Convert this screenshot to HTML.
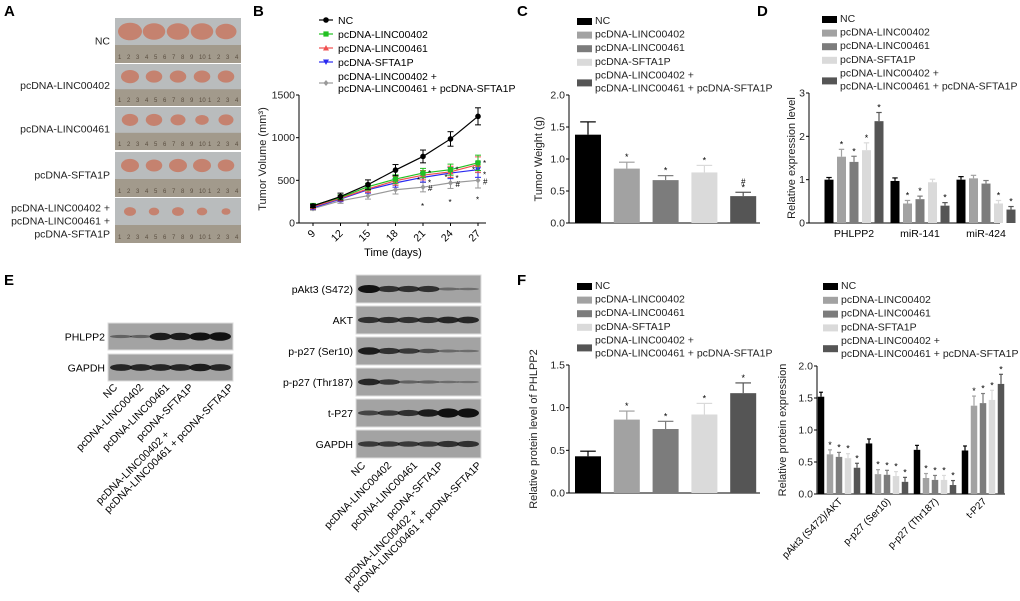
<!DOCTYPE html>
<html><head><meta charset="utf-8"><style>
html,body{margin:0;padding:0;background:#fff}
svg{display:block;font-family:"Liberation Sans",Arial,sans-serif}
</style></head><body>
<svg id="fig" width="1020" height="601" viewBox="0 0 1020 601">
<g font-weight="bold" font-size="15">
<text x="4" y="16">A</text>
<text x="253" y="16">B</text>
<text x="517" y="16">C</text>
<text x="757" y="16">D</text>
<text x="4" y="285">E</text>
<text x="517" y="285">F</text>
</g>
<g id="pA"></g>
<g id="pB"></g>
<g id="pC"></g>
<g id="pD"></g>
<g id="pE"></g>
<g id="pF1"></g>
<g id="pF2"></g>
</svg>
<script>
// ---------- data ----------
const groups = ["NC","pcDNA-LINC00402","pcDNA-LINC00461","pcDNA-SFTA1P","pcDNA-LINC00402 +|pcDNA-LINC00461 + pcDNA-SFTA1P"];
const barColors = ["#000000","#a2a2a2","#7c7c7c","#dadada","#555555"];
// B
const daysB = [9,12,15,18,21,24,27];
const nc_B = [200,310,450,620,780,985,1250];
const nc_Berr = [20,40,55,65,75,85,100];
const l402_B = [205,300,425,515,585,625,705];
const l461_B = [190,290,400,495,560,600,685];
const sfta_B = [180,280,390,470,535,585,625];
const combo_B = [170,260,320,390,420,470,500];
const other_Berr = [20,30,40,50,55,65,90];
const ticksB = [0,500,1000,1500];
// C
const valC = [1.38,0.85,0.67,0.79,0.42];
const errC = [0.2,0.1,0.07,0.11,0.06];
const ticksC = [0.0,0.5,1.0,1.5,2.0];
// D
const catsD = ["PHLPP2","miR-141","miR-424"];
const valD_NC = [1.0,0.97,1.0];
const valD_402 = [1.53,0.45,1.03];
const valD_461 = [1.41,0.55,0.91];
const valD_SF = [1.68,0.94,0.45];
const valD_CB = [2.35,0.4,0.31];
const ticksD = [0,1,2,3];
// F1
const valF1 = [0.43,0.86,0.75,0.92,1.17];
const errF1 = [0.06,0.1,0.09,0.13,0.12];
const ticksF1 = [0.0,0.5,1.0,1.5];
// F2
const catsF2 = ["pAkt3 (S472)/AKT","p-p27 (Ser10)","p-p27 (Thr187)","t-P27"];
const valF2_NC = [1.52,0.79,0.69,0.68];
const valF2_402 = [0.62,0.31,0.25,1.38];
const valF2_461 = [0.58,0.3,0.22,1.42];
const valF2_SF = [0.56,0.28,0.22,1.47];
const valF2_CB = [0.41,0.19,0.14,1.72];
const ticksF2 = [0.0,0.5,1.0,1.5,2.0];

const NS="http://www.w3.org/2000/svg";
function mk(parent,tag,attrs,text){const e=document.createElementNS(NS,tag);for(const k in attrs)e.setAttribute(k,attrs[k]);if(text!==undefined)e.textContent=text;parent.appendChild(e);return e;}
function lin(d0,d1,r0,r1){return v=>r0+(v-d0)*(r1-r0)/(d1-d0);}

function legendBars(g,x,y0,step){
  groups.forEach((name,i)=>{
    const parts=name.split("|");const y=y0+i*step;
    const yy=parts.length>1?y+7:y;
    const sw=mk(g,"rect",{x:x,y:yy-6,width:15,height:7,fill:barColors[i]});
    
    
    parts.forEach((p,j)=>{const t=mk(g,"text",{x:x+18,y:y+j*13,"font-size":10.5,fill:"#222"},p);
      
      });
  });
}
function yAxis(g,x,ys,ticks,fmt,xEnd,title,tcx){
  mk(g,"line",{x1:x,y1:ys(ticks[0]),x2:x,y2:ys(ticks[ticks.length-1]),stroke:"#000","stroke-width":1});
  mk(g,"line",{x1:x,y1:ys(ticks[0]),x2:xEnd,y2:ys(ticks[0]),stroke:"#000","stroke-width":1});
  ticks.forEach(t=>{mk(g,"line",{x1:x-3,y1:ys(t),x2:x,y2:ys(t),stroke:"#000"});
    const l=mk(g,"text",{x:x-4,y:ys(t)+3.5,"font-size":10.5,"text-anchor":"end",fill:"#222"},fmt(t));
    
    });
  const cy=(ys(ticks[0])+ys(ticks[ticks.length-1]))/2;
  const tt=mk(g,"text",{x:tcx,y:cy,"font-size":11,"text-anchor":"middle",transform:`rotate(-90 ${tcx} ${cy})`,fill:"#222"},title);
  
  
}
function bar(g,cx,w,v,e,ys,col,star,hash){
  const r=mk(g,"rect",{x:cx-w/2,y:ys(v),width:w,height:ys(0)-ys(v),fill:col});
  
  
  const top=ys(v+e);
  mk(g,"line",{x1:cx,y1:ys(v),x2:cx,y2:top,stroke:col,"stroke-width":1.2});
  mk(g,"line",{x1:cx-w*0.3,y1:top,x2:cx+w*0.3,y2:top,stroke:col,"stroke-width":1.2});
  if(star)mk(g,"text",{x:cx,y:top-2,"font-size":9,"text-anchor":"middle"},"*");
  if(hash)mk(g,"text",{x:cx,y:top-8,"font-size":8,"text-anchor":"middle"},"#");
}

// ---------- A photos ----------
(function(){
  const g=document.getElementById("pA");
  const rows=[[18,63,"NC",[16,15,15,15,14]],[64,106,"pcDNA-LINC00402",[12,11,11,11,11]],[107,150,"pcDNA-LINC00461",[11,11,10,9,10]],[152,197,"pcDNA-SFTA1P",[12,11,12,12,11]],[198,243,"pcDNA-LINC00402 +|pcDNA-LINC00461 +|pcDNA-SFTA1P",[8,7,8,7,6]]];
  rows.forEach(([y0,y1,lab,sz])=>{
    const h=y1-y0;
    const bg=mk(g,"rect",{x:115,y:y0,width:126,height:h,fill:"#b9bcbd"});
    
    
    mk(g,"rect",{x:115,y:y0+h*0.6,width:126,height:h*0.4,fill:"#a29a8c"});
    for(let k=0;k<14;k++)mk(g,"text",{x:118+k*9,y:y1-4,"font-size":6,fill:"#5a4e40"},String((k%10)+1));
    sz.forEach((s,i)=>mk(g,"ellipse",{cx:130+i*24,cy:y0+h*0.3,rx:s*0.75,ry:s*0.55,fill:"#c5826f"}));
    const parts=lab.split("|");
    const cy=(y0+y1)/2-(parts.length-1)*6.5+4;
    parts.forEach((p,j)=>{const t=mk(g,"text",{x:110,y:cy+j*13,"font-size":10.5,"text-anchor":"end",fill:"#222"},p);
      
      });
  });
})();

// ---------- B line chart ----------
function marker(g,m,x,y,c){
  if(m==="circle")mk(g,"circle",{cx:x,cy:y,r:2.8,fill:c});
  else if(m==="square")mk(g,"rect",{x:x-2.6,y:y-2.6,width:5.2,height:5.2,fill:c});
  else if(m==="tri")mk(g,"polygon",{points:`${x},${y-3} ${x-3},${y+2.5} ${x+3},${y+2.5}`,fill:c});
  else if(m==="tridown")mk(g,"polygon",{points:`${x},${y+3} ${x-3},${y-2.5} ${x+3},${y-2.5}`,fill:c});
  else mk(g,"polygon",{points:`${x},${y-3} ${x-2.5},${y} ${x},${y+3} ${x+2.5},${y}`,fill:c});
}
(function(){
  const g=document.getElementById("pB");
  const xs=lin(9,27,313,478), ys=lin(0,1500,223,95);
  yAxis(g,299,ys,ticksB,t=>t,486,"Tumor Volume (mm³)",266);
  daysB.forEach(d=>{mk(g,"line",{x1:xs(d),y1:223,x2:xs(d),y2:226,stroke:"#000"});
    const t=mk(g,"text",{x:xs(d)+3,y:234,"font-size":10.5,"text-anchor":"end",transform:`rotate(-45 ${xs(d)+3} 234)`},d);
    
    });
  const xt=mk(g,"text",{x:393,y:256,"font-size":11,"text-anchor":"middle"},"Time (days)");
  
  
  const series=[[nc_B,nc_Berr,"#000","circle"],[l402_B,other_Berr,"#22c022","square"],[l461_B,other_Berr,"#f05050","tri"],[sfta_B,other_Berr,"#2a2af0","tridown"],[combo_B,other_Berr,"#999","diamond"]];
  series.slice().reverse().forEach(([vals,err,col,m])=>{
    const pts=vals.map((v,i)=>xs(daysB[i])+","+ys(v)).join(" ");
    const pl=mk(g,"polyline",{points:pts,fill:"none",stroke:col,"stroke-width":1.2});
    
    
    vals.forEach((v,i)=>{const x=xs(daysB[i]);
      mk(g,"line",{x1:x,y1:ys(v-err[i]),x2:x,y2:ys(v+err[i]),stroke:col});
      mk(g,"line",{x1:x-3,y1:ys(v+err[i]),x2:x+3,y2:ys(v+err[i]),stroke:col});
      mk(g,"line",{x1:x-3,y1:ys(v-err[i]),x2:x+3,y2:ys(v-err[i]),stroke:col});
      marker(g,m,x,ys(v),col);});
  });
  [4,5,6].forEach(i=>{const x=xs(daysB[i]);
    mk(g,"text",{x:x+5,y:ys(l402_B[i])+3,"font-size":8},"*");
    mk(g,"text",{x:x-6,y:ys(l461_B[i])+8,"font-size":8},"*");
    mk(g,"text",{x:x+5,y:ys(sfta_B[i])+8,"font-size":8},"*");
    mk(g,"text",{x:x+5,y:ys(combo_B[i])+4,"font-size":8},"#");
    mk(g,"text",{x:x-2,y:ys(combo_B[i])+22,"font-size":8},"*");});
  const leg=[["NC","#000","circle"],["pcDNA-LINC00402","#22c022","square"],["pcDNA-LINC00461","#f05050","tri"],["pcDNA-SFTA1P","#2a2af0","tridown"]];
  leg.forEach(([n,c,m],i)=>{const y=20+i*14;
    mk(g,"line",{x1:319,y1:y,x2:333,y2:y,stroke:c,"stroke-width":1.2});marker(g,m,326,y,c);
    const t=mk(g,"text",{x:338,y:y+4,"font-size":10.5},n);
    
    });
  mk(g,"line",{x1:319,y1:83,x2:333,y2:83,stroke:"#999","stroke-width":1.2});marker(g,"diamond",326,83,"#999");
  ["pcDNA-LINC00402 +","pcDNA-LINC00461 + pcDNA-SFTA1P"].forEach((p,j)=>{const t=mk(g,"text",{x:338,y:80+j*12,"font-size":10.5},p);
    
    });
})();

// ---------- C ----------
(function(){
  const g=document.getElementById("pC");
  const ys=lin(0,2,223,95);
  yAxis(g,569,ys,ticksC,t=>t.toFixed(1),760,"Tumor Weight (g)",542);
  valC.forEach((v,i)=>bar(g,588+i*38.8,26,v,errC[i],ys,barColors[i],i>0,i===4));
  legendBars(g,577,24,13.6);
})();

// ---------- D ----------
(function(){
  const g=document.getElementById("pD");
  const ys=lin(0,3,223,93);
  yAxis(g,809,ys,ticksD,t=>t,1000,"Relative expression level",795);
  const sets=[valD_NC,valD_402,valD_461,valD_SF,valD_CB];
  const err=[0.05,0.17,0.13,0.17,0.2];
  catsD.forEach((c,k)=>{const c0=829+k*66;
    sets.forEach((s,i)=>{const st=(k===0&&i>0)||(k===1&&(i===1||i===2||i===4))||(k===2&&i>=3);
      bar(g,c0+i*12.5,9,s[k],k===0?err[i]:0.07,ys,barColors[i],st,false);});
    const t=mk(g,"text",{x:c0+25,y:237,"font-size":10.5,"text-anchor":"middle"},c);
    
    });
  legendBars(g,822,22,13.6);
})();

// ---------- E blots ----------
(function(){
  const g=document.getElementById("pE");
  function blot(x0,y0,w,h,lab,ints){
    const r=mk(g,"rect",{x:x0,y:y0,width:w,height:h,fill:"#a3a3a3",stroke:"#ddd"});
    
    
    ints.forEach((s,i)=>{if(s>0)mk(g,"ellipse",{cx:x0+13+i*(w-26)/5,cy:y0+h/2,rx:11,ry:1+s*3,fill:"#111",opacity:Math.min(1,0.3+s*0.7)});});
    const t=mk(g,"text",{x:x0-3,y:y0+h/2+4,"font-size":10.5,"text-anchor":"end"},lab);
    
    
  }
  blot(108,323,125,27,"PHLPP2",[0.2,0.2,0.9,0.9,1,1.1]);
  blot(108,354,125,27,"GAPDH",[0.8,0.8,0.8,0.8,0.9,0.8]);
  const rl=[["pAkt3 (S472)",[1,0.7,0.7,0.7,0.15,0.1]],["AKT",[0.7,0.7,0.7,0.7,0.8,0.8]],["p-p27 (Ser10)",[0.9,0.7,0.6,0.4,0.15,0.1]],["p-p27 (Thr187)",[0.8,0.6,0.2,0.2,0.1,0.05]],["t-P27",[0.5,0.6,0.7,0.9,1.2,1.2]],["GAPDH",[0.6,0.6,0.6,0.6,0.7,0.7]]];
  rl.forEach(([l,ints],i)=>blot(356,275+i*31,125,28,l,ints));
  function lanes(xs,yEnd){
    const labs=["NC","pcDNA-LINC00402","pcDNA-LINC00461","pcDNA-SFTA1P"];
    labs.forEach((l,i)=>{const t=mk(g,"text",{x:xs[i],y:yEnd,"font-size":10.5,"text-anchor":"end",transform:`rotate(-45 ${xs[i]} ${yEnd})`},l);
      
      });
    const grp=mk(g,"g",{transform:`translate(${xs[4]} ${yEnd}) rotate(-45)`});
    const t2=mk(grp,"text",{x:0,y:0,"font-size":10.5,"text-anchor":"end"},"pcDNA-LINC00461 + pcDNA-SFTA1P");
    
    
    const len=t2.getComputedTextLength();
    const t1=mk(grp,"text",{x:-len,y:-12,"font-size":10.5,"text-anchor":"start"},"pcDNA-LINC00402 +");
    
    
  }
  lanes([118,144,170,194,234],388);
  lanes([366,392,418,444,482],466);
})();

// ---------- F1 ----------
(function(){
  const g=document.getElementById("pF1");
  const ys=lin(0,1.5,493,365);
  yAxis(g,569,ys,ticksF1,t=>t.toFixed(1),760,"Relative protein level of PHLPP2",537);
  valF1.forEach((v,i)=>bar(g,588+i*38.8,26,v,errF1[i],ys,barColors[i],i>0,false));
  legendBars(g,577,289,13.6);
})();

// ---------- F2 ----------
(function(){
  const g=document.getElementById("pF2");
  const ys=lin(0,2,494,366);
  yAxis(g,817,ys,ticksF2,t=>t.toFixed(1),1005,"Relative protein expression",786);
  const sets=[valF2_NC,valF2_402,valF2_461,valF2_SF,valF2_CB];
  catsF2.forEach((c,k)=>{const c0=821+k*48;
    sets.forEach((s,i)=>bar(g,c0+i*9,6.5,s[k],k===3&&i>0?0.15:0.07,ys,barColors[i],i>0,false));
    const x=c0+22,y=502;
    const t=mk(g,"text",{x:x,y:y,"font-size":10,"text-anchor":"end",transform:`rotate(-45 ${x} ${y})`},c);
    
    });
  legendBars(g,823,289,13.8);
})();
</script>
</body></html>
